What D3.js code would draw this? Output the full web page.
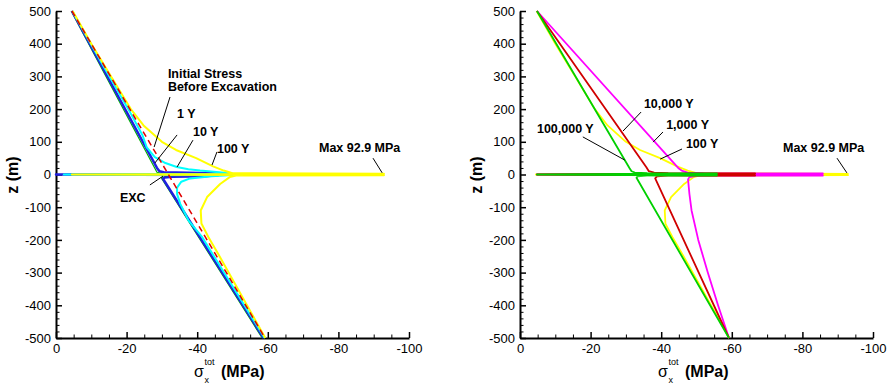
<!DOCTYPE html>
<html>
<head>
<meta charset="utf-8">
<script src="https://cdn.jsdelivr.net/npm/d3@7"></script>
<style>
body { margin: 0; background: #fff; }
text { font-family: "Liberation Sans", Arial, Helvetica, sans-serif; }
</style>
</head>
<body>
<script>
// ---- data: [sigma (MPa), z (m)] ----
var xTicks = [0, -20, -40, -60, -80, -100];
var zTicks = [500, 400, 300, 200, 100, 0, -100, -200, -300, -400, -500];

var initialStress = [[-4.5, 500], [-59.2, -500]];

var exc = [[-4.3, 500], [-28.6, 7], [-30, 3], [-45, 1.5], [0, 0], [-45, -1.5],
           [-31, -6], [-29.8, -10], [-58.4, -500]];

var y1 = [[-4.5, 500], [-28.6, 20], [-29.3, 10], [-30.5, 7], [-34, 6], [-44, 4], [-48, 1.5],
          [0, 0], [-46, -1.5], [-42, -5], [-33, -7], [-30.8, -9], [-30.3, -13], [-58.8, -500]];

var y10 = [[-4.6, 500], [-13.5, 330], [-21, 190], [-24.5, 120], [-25.7, 83], [-28, 53],
           [-31, 35], [-34.2, 23], [-37.5, 16], [-40.8, 12], [-47, 6], [-50, 2],
           [-2.2, 0], [-50, -1.5], [-44, -5], [-38, -12], [-35.5, -22], [-34.3, -40],
           [-34.3, -60], [-35.2, -90], [-37.5, -140], [-41.3, -190], [-59.1, -500]];

var y100 = [[-4.7, 500], [-10, 400], [-15.6, 300], [-21.2, 200], [-24.8, 150], [-30, 100],
            [-34, 75], [-39.7, 50], [-44.5, 25], [-47.5, 12], [-50, 4], [-92.9, 2],
            [-4.5, 0], [-92.9, -2], [-51, -3], [-49.2, -8], [-46.5, -29], [-42.8, -69],
            [-41, -110], [-41.2, -150], [-43.2, -192], [-46.6, -255], [-59.3, -500]];

var y1000 = [[-4.8, 500], [-45, 18], [-45.8, 12], [-47.5, 6], [-52, 4], [-85.8, 3],
             [-4.8, 0], [-85.8, -3], [-50, -4], [-48, -8], [-47.6, -15], [-48, -60],
             [-48.6, -110], [-50.5, -200], [-53.2, -300], [-56.1, -400], [-59.2, -500]];

var y10000 = [[-4.8, 500], [-35.8, 22], [-36.5, 10], [-38, 6], [-42, 4], [-66.6, 3],
              [-4.8, 0], [-66.6, -3], [-42, -3], [-38.8, -6], [-38.3, -12], [-59.2, -500]];

var y100000 = [[-4.8, 500], [-31, 20], [-31.6, 10], [-32.5, 6], [-36, 4], [-55.8, 3],
               [-4.8, 0], [-55.8, -3], [-36, -3], [-33.3, -6], [-33, -10], [-59.2, -500]];

// labels: text, sigma, z (baseline start)
var leftLabels = [["Initial Stress", -31.7, 295], ["Before Excavation", -31.7, 255],
                  ["1 Y", -34.3, 173], ["10 Y", -38.8, 118], ["100 Y", -45.6, 66],
                  ["Max 92.9 MPa", -74.5, 69], ["EXC", -18.1, -84]];
var leftLeaders = [[-32.3, 237, -27.8, 84], [-34.3, 121, -28, 35], [-38.8, 105, -34.3, 23],
                   [-45.6, 69, -44.2, 29], [-89.8, 50, -92.4, 5], [-26.6, -32, -30.3, -5]];

var rightLabels = [["10,000 Y", -35.1, 203], ["1,000 Y", -41.4, 139], ["100 Y", -47, 81],
                   ["100,000 Y", -4.8, 127], ["Max 92.9 MPa", -74.5, 69]];
var rightLeaders = [[-34.3, 191, -29.2, 133], [-40.5, 130, -37.7, 99], [-45.9, 78, -39.7, 47],
                    [-17.8, 115, -29.7, 44], [-89.8, 50, -92.6, 5]];

var svg = d3.select("body").append("svg")
            .attr("width", 891)
            .attr("height", 385);

var y = d3.scaleLinear().domain([-500, 500]).range([338, 11]);

var drawPanel = function(x0, curves, labels, leaders) {
  var x = d3.scaleLinear().domain([0, -100]).range([x0, x0 + 353]);
  var g = svg.append("g");

  // minor ticks
  var minorX = d3.range(0, -101, -5).filter(function(d) { return d % 20 != 0; });
  var minorZ = d3.range(-500, 501, 20).filter(function(d) { return d % 100 != 0; });

  g.append("g").attr("transform", "translate(0,338)")
   .call(d3.axisBottom(x).tickValues(minorX).tickSize(-3.5).tickFormat(""))
   .call(function(s) { s.select(".domain").remove(); });
  g.append("g").attr("transform", "translate(" + x0 + ",0)")
   .call(d3.axisLeft(y).tickValues(minorZ).tickSize(-3.5).tickFormat(""))
   .call(function(s) { s.select(".domain").remove(); });

  var xa = g.append("g").attr("transform", "translate(0,338)")
            .call(d3.axisBottom(x).tickValues(xTicks).tickSize(-6).tickSizeOuter(0)
                    .tickPadding(6).tickFormat(function(d) { return String(d); }));
  var ya = g.append("g").attr("transform", "translate(" + x0 + ",0)")
            .call(d3.axisLeft(y).tickValues(zTicks).tickSize(-6).tickSizeOuter(0)
                    .tickPadding(5).tickFormat(function(d) { return String(d); }));
  [xa, ya].forEach(function(a) {
    a.selectAll("text").attr("font-size", 13).attr("fill", "#000")
     .attr("font-family", "'Liberation Sans', Arial, sans-serif");
    a.select(".domain").attr("stroke-width", 2);
    a.selectAll(".tick line").attr("stroke-width", 1.5);
  });
  g.selectAll(".tick line").attr("stroke", "#000");

  var line = d3.line()
               .x(function(d) { return x(d[0]); })
               .y(function(d) { return y(d[1]); });

  curves.forEach(function(c) {
    g.append("path")
     .attr("d", line(c.data))
     .attr("fill", "none")
     .attr("stroke", c.color)
     .attr("stroke-width", c.width)
     .attr("stroke-linejoin", "round")
     .attr("stroke-dasharray", c.dash || null);
  });

  // leader lines
  g.selectAll(".leader").data(leaders).enter()
   .append("line")
   .attr("x1", function(d) { return x(d[0]); })
   .attr("y1", function(d) { return y(d[1]); })
   .attr("x2", function(d) { return x(d[2]); })
   .attr("y2", function(d) { return y(d[3]); })
   .attr("stroke", "#000")
   .attr("stroke-width", 1);

  g.selectAll(".lbl").data(labels).enter()
   .append("text")
   .attr("x", function(d) { return x(d[1]); })
   .attr("y", function(d) { return y(d[2]); })
   .attr("font-size", 12.5)
   .attr("font-weight", "bold")
   .text(function(d) { return d[0]; });

  // axis titles
  g.append("text").attr("x", x0 + 138).attr("y", 377)
   .attr("font-size", 16).text("\u03c3");
  g.append("text").attr("x", x0 + 148.5).attr("y", 365)
   .attr("font-size", 9).text("tot");
  g.append("text").attr("x", x0 + 148.5).attr("y", 383)
   .attr("font-size", 9).text("x");
  g.append("text").attr("x", x0 + 165).attr("y", 377)
   .attr("font-size", 16).attr("font-weight", "bold").text("(MPa)");

  g.append("text")
   .attr("transform", "translate(" + (x0 - 38) + ",175) rotate(-90)")
   .attr("text-anchor", "middle")
   .attr("font-size", 16)
   .attr("font-weight", "bold")
   .text("z (m)");
};

drawPanel(56, [
  {data: exc, color: "#00b400", width: 1.2},
  {data: y1, color: "#2020e0", width: 2.5},
  {data: y10, color: "#00ffff", width: 2},
  {data: y100, color: "#ffff00", width: 2},
  {data: initialStress, color: "#e00000", width: 1.5, dash: "6,4"}
], leftLabels, leftLeaders);

drawPanel(520, [
  {data: y100, color: "#ffff00", width: 1.8},
  {data: y1000, color: "#ff00ff", width: 1.8},
  {data: y10000, color: "#d00000", width: 1.8},
  {data: y100000, color: "#00d000", width: 1.8}
], rightLabels, rightLeaders);
</script>
</body>
</html>
